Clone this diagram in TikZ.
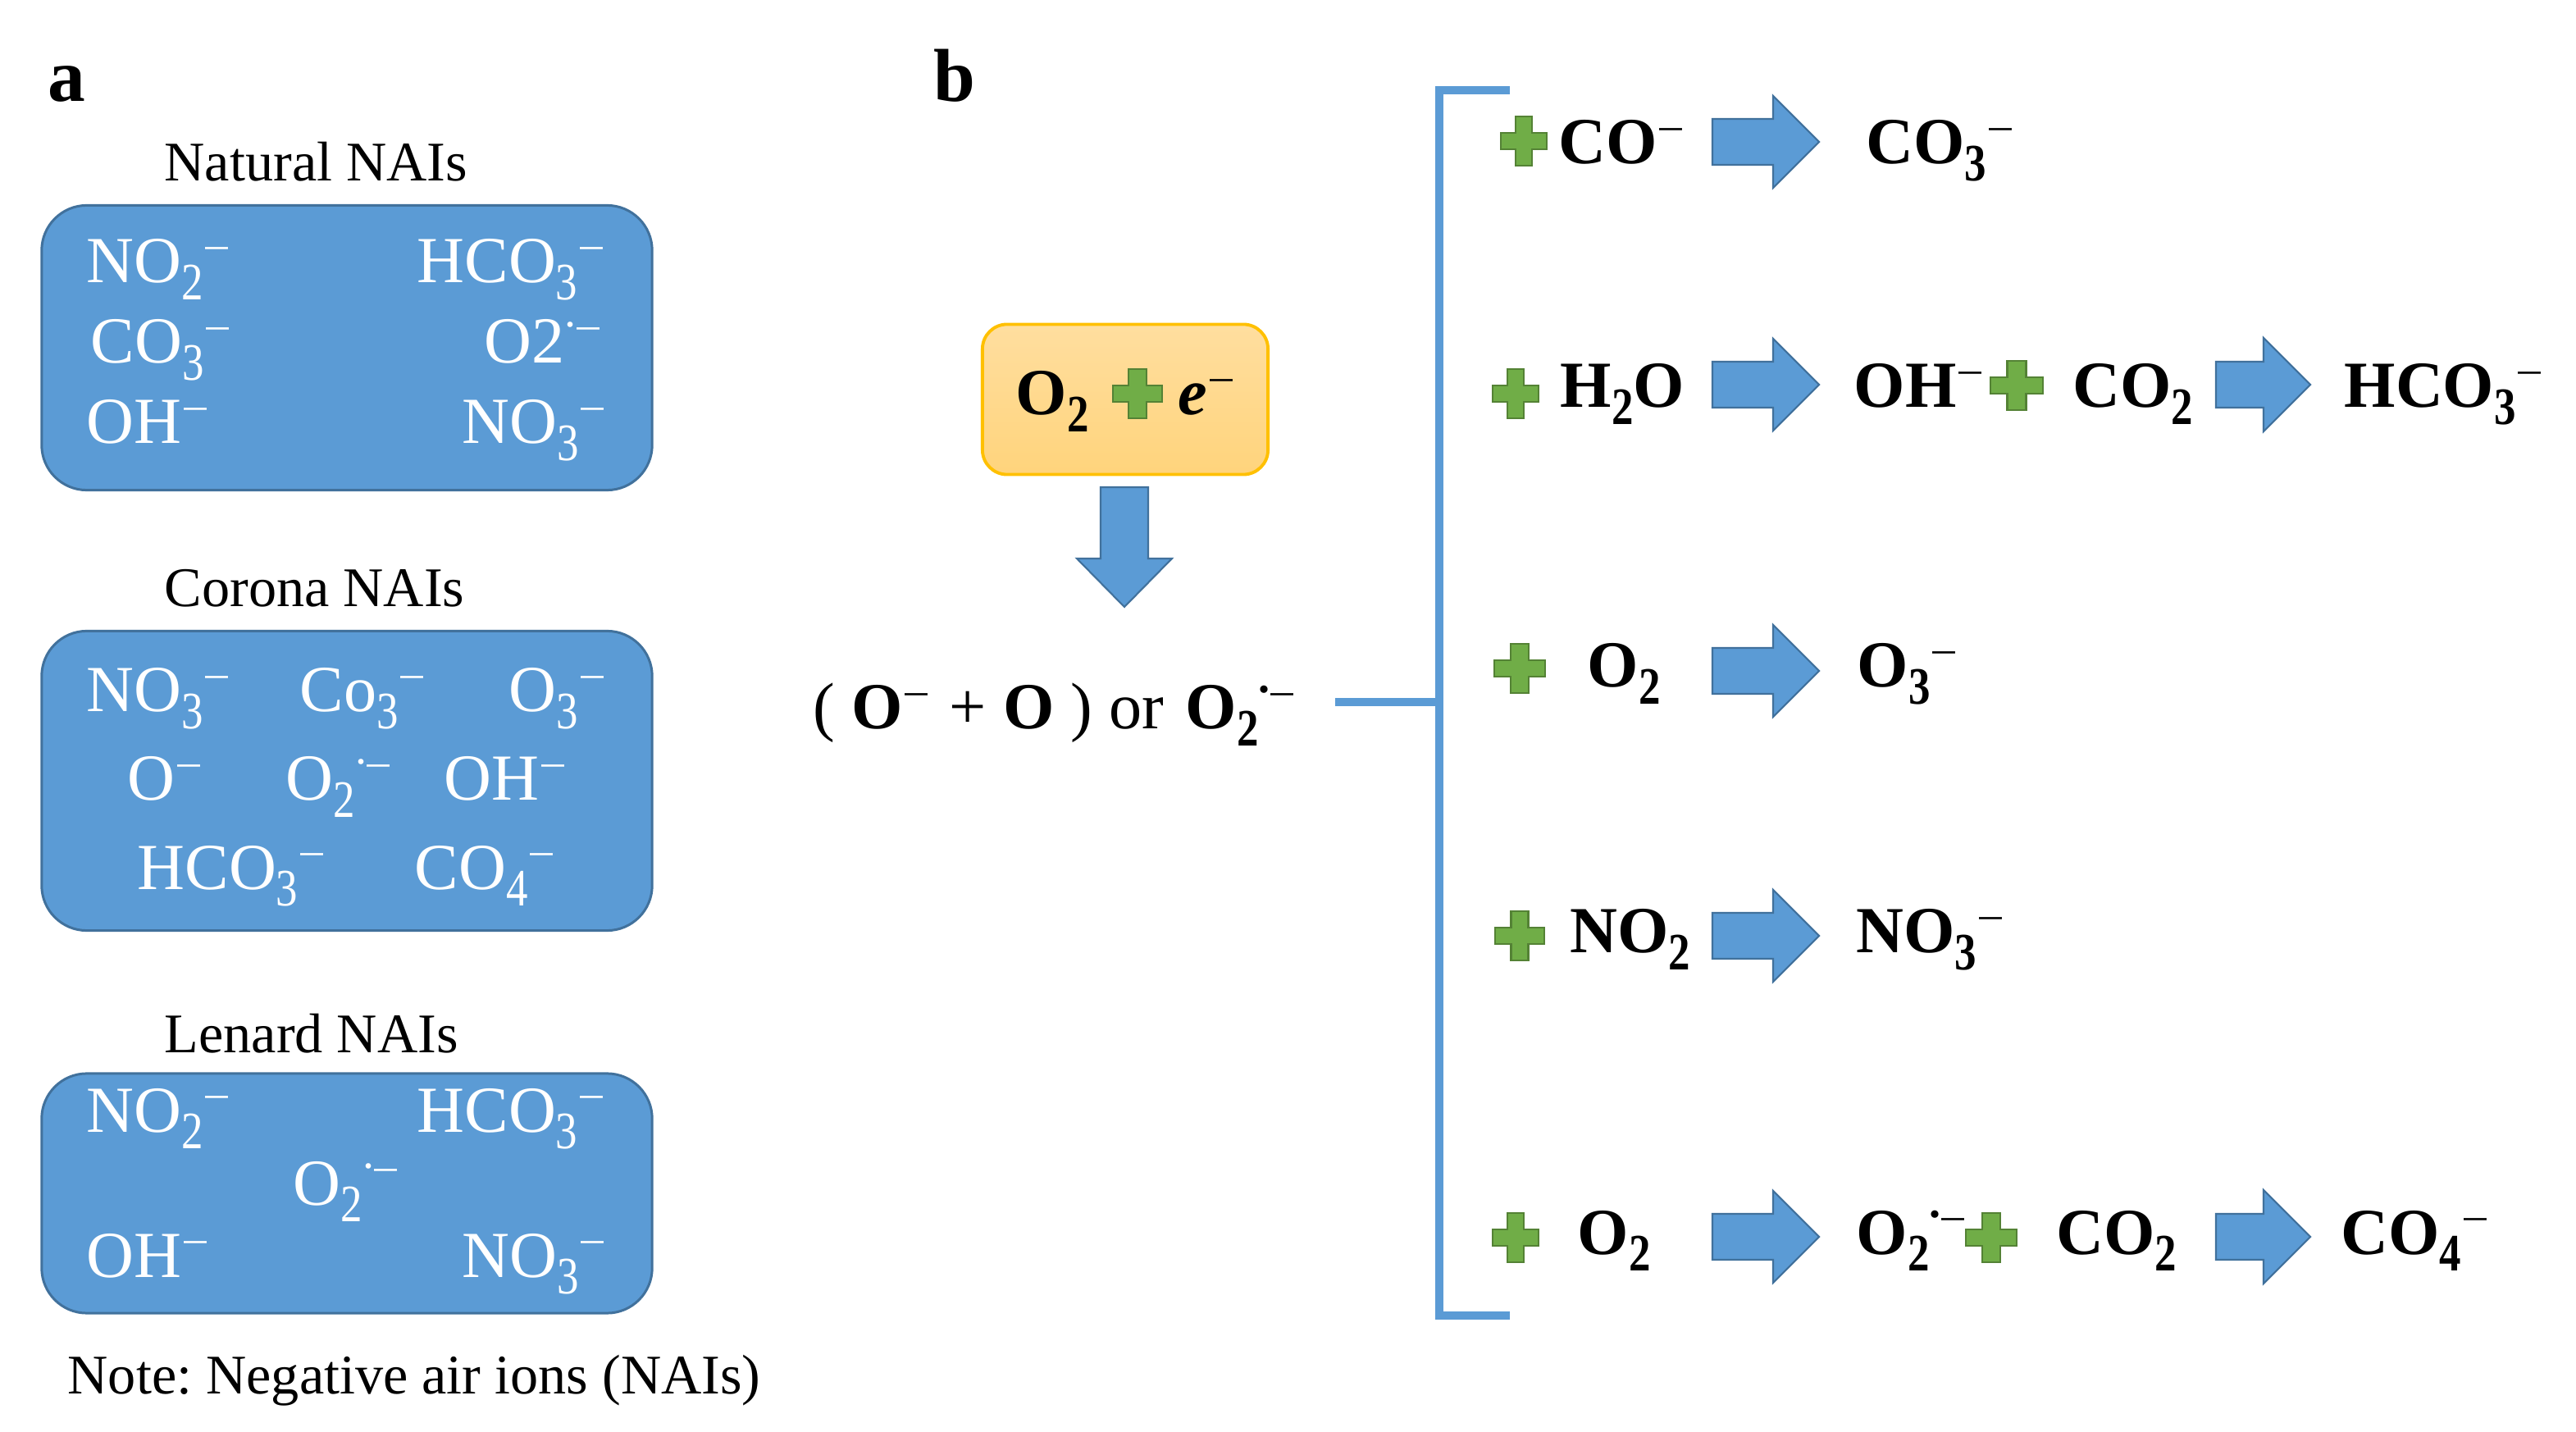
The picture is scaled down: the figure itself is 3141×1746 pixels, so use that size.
\documentclass[tikz,border=0pt]{standalone}
\usepackage{fontspec}
\setmainfont{Liberation Serif}
\frenchspacing

\definecolor{boxblue}{HTML}{5B9BD5}
\definecolor{edgeblue}{HTML}{41719C}
\definecolor{plusgreen}{HTML}{70AD47}
\definecolor{edgegreen}{HTML}{548235}
\definecolor{sourcetop}{HTML}{FFDE9F}
\definecolor{sourcebot}{HTML}{FFD47C}
\definecolor{sourceedge}{HTML}{FFC000}

\newcommand{\low}[1]{\raisebox{-0.25em}[0pt][0pt]{\scalebox{0.66}[0.8]{#1}}}
\newcommand{\up}[1]{\raisebox{0.3em}[0pt][0pt]{\scalebox{0.75}[0.66]{\normalfont #1}}}
\newcommand{\rad}{\raisebox{0.56em}[0pt][0pt]{\scalebox{0.7}{.}}\hspace{-0.03em}}

\tikzset{
  ionbox/.style={draw=edgeblue,line width=0.85pt,fill=boxblue,rounded corners=0.55cm,minimum width=7.44cm},
  ion/.style={anchor=base west,inner sep=0pt,text=white,font=\fontsize{22.8}{27}\selectfont},
  boxname/.style={anchor=base west,inner sep=0pt,font=\fontsize{19.4}{23}\selectfont},
  panel/.style={anchor=base west,inner sep=0pt,font=\fontsize{26}{31}\selectfont\bfseries},
  chem/.style={anchor=base west,inner sep=0pt,font=\fontsize{22.8}{27}\selectfont\bfseries},
  bracket/.style={draw=boxblue,line width=2.7pt},
  blockarrow/.style={draw=edgeblue,line width=0.6pt,fill=boxblue},
  longarrow/.pic={\draw[blockarrow] (0,-28) -- (74,-28) -- (74,-56) -- (130,0) -- (74,56) -- (74,28) -- (0,28) -- cycle;},
  shortarrow/.pic={\draw[blockarrow] (0,-28) -- (58,-28) -- (58,-57) -- (115,0) -- (58,57) -- (58,28) -- (0,28) -- cycle;},
  downarrow/.pic={\draw[blockarrow] (-29,0) -- (29,0) -- (29,87) -- (58,87) -- (0,146) -- (-58,87) -- (-29,87) -- cycle;},
  greenplus/.pic={\draw[draw=edgegreen,line width=0.7pt,fill=plusgreen] (-10,-30) -- (10,-30) -- (10,-10) -- (28,-10) -- (28,10) -- (10,10) -- (10,30) -- (-10,30) -- (-10,10) -- (-28,10) -- (-28,-10) -- (-10,-10) -- cycle;},
}

\begin{document}
\begin{tikzpicture}[x=0.01cm,y=-0.01cm]
  \useasboundingbox (0,0) rectangle (3141,1746);

  \node[panel] (labela) at (58,124) {a};
  \node[panel] (labelb) at (1138,124) {b};

  % left column
  \node[boxname] (natural) at (200,221) {Natural NAIs};
  \node[ionbox,minimum height=3.47cm] (box1) at (423,424) {};
  \node[ion] (a1) at (105,345) {NO\low{2}\up{−}};
  \node[ion] (a2) at (508,345) {HCO\low{3}\up{−}};
  \node[ion] (a3) at (110,443) {CO\low{3}\up{−}};
  \node[ion] (a4) at (590,443) {O2\rad\up{−}};
  \node[ion] (a5) at (105,541) {OH\up{−}};
  \node[ion] (a6) at (563,541) {NO\low{3}\up{−}};

  \node[boxname] (corona) at (200,740) {Corona NAIs};
  \node[ionbox,minimum height=3.65cm] (box2) at (423,952) {};
  \node[ion] (b1) at (105,868) {NO\low{3}\up{−}};
  \node[ion] (b2) at (365,868) {Co\low{3}\up{−}};
  \node[ion] (b3) at (620,868) {O\low{3}\up{−}};
  \node[ion] (b4) at (155,976) {O\up{−}};
  \node[ion] (b5) at (348,976) {O\low{2}\rad\up{−}};
  \node[ion] (b6) at (541,976) {OH\up{−}};
  \node[ion] (b7) at (167,1084) {HCO\low{3}\up{−}};
  \node[ion] (b8) at (505,1084) {CO\low{4}\up{−}};

  \node[boxname] (lenard) at (200,1284) {Lenard NAIs};
  \node[ionbox,minimum height=2.92cm] (box3) at (423,1455) {};
  \node[ion] (c1) at (105,1380) {NO\low{2}\up{−}};
  \node[ion] (c2) at (508,1380) {HCO\low{3}\up{−}};
  \node[ion] (c3) at (357,1469) {O\low{2}\rad\up{−}};
  \node[ion] (c4) at (105,1557) {OH\up{−}};
  \node[ion] (c5) at (563,1557) {NO\low{3}\up{−}};

  \node[boxname] (note) at (82,1699) {Note: Negative air ions (NAIs)};

  % middle part
  \node[draw=sourceedge,line width=1.1pt,top color=sourcetop,bottom color=sourcebot,rounded corners=0.3cm,minimum width=3.48cm,minimum height=1.83cm] (source) at (1372,487) {};
  \node[chem] (oxygen) at (1238,506) {O\low{2}};
  \pic[xscale=1.08] at (1387,480) {greenplus};
  \node[chem] (electron) at (1436,506) {\textit{e}\up{−}};
  \pic at (1371,594) {downarrow};

  \node[chem] (result) at (991,889) {\normalfont( \textbf{O}\up{−}\hspace{0.04em} + \textbf{O} ) or\hspace{0.08em} \textbf{O\low{2}\rad}\up{−}};

  \coordinate (stub) at (1628,856);
  \coordinate (brmid) at (1755,856);
  \coordinate (brtop) at (1841,110);
  \coordinate (brtopc) at (1755,110);
  \coordinate (brbotc) at (1755,1604);
  \coordinate (brbot) at (1841,1604);
  \draw[bracket] (brtop) -- (brtopc) -- (brbotc) -- (brbot);
  \draw[bracket] (stub) -- (brmid);

  % reaction rows
  \foreach \rowy in {173,469,818,1141,1508}
    \pic at (2088,\rowy) {longarrow};
  \foreach \rowy in {469,1508}
    \pic at (2702,\rowy) {shortarrow};

  \pic at (1858,172) {greenplus};
  \node[chem] (r1a) at (1900,200) {CO\up{−}};
  \node[chem] (r1b) at (2275,200) {CO\low{3}\up{−}};

  \pic at (1848,480) {greenplus};
  \node[chem] (r2a) at (1902,497) {H\low{2}O};
  \node[chem] (r2b) at (2260,497) {OH\up{−}};
  \pic[xscale=1.15] at (2459,470) {greenplus};
  \node[chem] (r2c) at (2527,497) {CO\low{2}};
  \node[chem] (r2d) at (2858,497) {HCO\low{3}\up{−}};

  \pic[xscale=1.1] at (1853,815) {greenplus};
  \node[chem] (r3a) at (1935,838) {O\low{2}};
  \node[chem] (r3b) at (2264,838) {O\low{3}\up{−}};

  \pic[xscale=1.07] at (1853,1141) {greenplus};
  \node[chem] (r4a) at (1914,1162) {NO\low{2}};
  \node[chem] (r4b) at (2263,1162) {NO\low{3}\up{−}};

  \pic at (1848,1509) {greenplus};
  \node[chem] (r5a) at (1923,1529) {O\low{2}};
  \node[chem] (r5b) at (2263,1529) {O\low{2}\rad\up{−}};
  \pic[xscale=1.1] at (2428,1509) {greenplus};
  \node[chem] (r5c) at (2507,1529) {CO\low{2}};
  \node[chem] (r5d) at (2854,1529) {CO\low{4}\up{−}};
\end{tikzpicture}
\end{document}
